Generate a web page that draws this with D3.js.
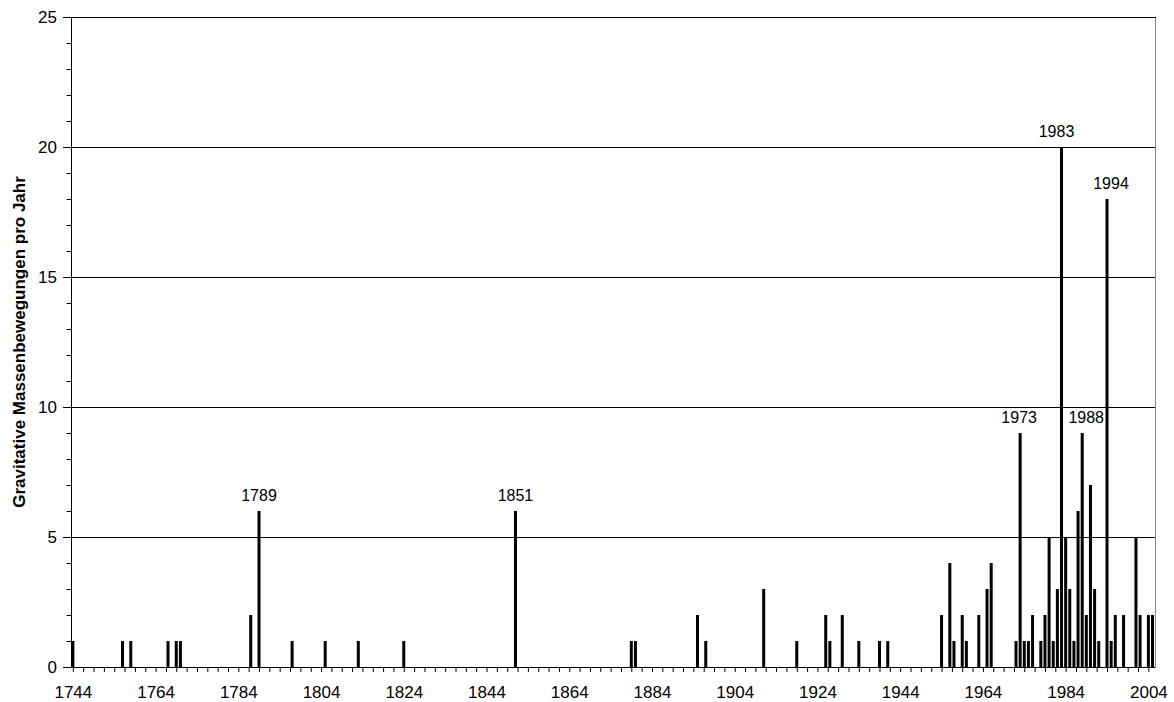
<!DOCTYPE html>
<html>
<head>
<meta charset="utf-8">
<script src="https://cdn.jsdelivr.net/npm/d3@7"></script>
<style>
  html, body { margin: 0; padding: 0; background: #fff; }
  svg { display: block; font-family: "Liberation Sans", Arial, sans-serif; }
</style>
</head>
<body>
<svg id="chart" width="1174" height="702"></svg>
<script>
// ---- data ----
const years = [1744,1756,1758,1767,1769,1770,1787,1789,1797,1805,1813,1824,1851,1879,1880,1895,1897,1911,1919,1926,1927,1930,1934,1939,1941,1954,1956,1957,1959,1960,1963,1965,1966,1972,1973,1974,1975,1976,1978,1979,1980,1981,1982,1983,1984,1985,1986,1987,1988,1989,1990,1991,1992,1994,1995,1996,1998,2001,2002,2004,2005];
const counts = [1,1,1,1,1,1,2,6,1,1,1,1,6,1,1,2,1,3,1,2,1,2,1,1,1,2,4,1,2,1,2,3,4,1,9,1,1,2,1,2,5,1,3,20,5,3,1,6,9,2,7,3,1,18,1,2,2,5,2,2,2];
const labelledYears = [1789, 1851, 1973, 1983, 1988, 1994];
const xTickLabels = ["1744","1764","1784","1804","1824","1844","1864","1884","1904","1924","1944","1964","1984","2004"];
const yMajorTicks = [0, 5, 10, 15, 20, 25];
const yTitle = "Gravitative Massenbewegungen pro Jahr";

(function () {
const data = years.map((yr, i) => ({ year: yr, value: counts[i] }));

// ---- layout ----
const svg = d3.select("#chart");
const pL = 71, pR = 1155, pT = 17, pB = 667;
const x = d3.scaleLinear().domain([1743.55, 2005.6]).range([pL, pR]);
const y = d3.scaleLinear().domain([0, 25]).range([pB, pT]);
const font = "17px";

// gridlines
svg.append("g")
  .selectAll("line")
  .data(yMajorTicks.filter(v => v > 0))
  .join("line")
  .attr("x1", pL).attr("x2", pR)
  .attr("y1", d => Math.round(y(d)) + 0.5).attr("y2", d => Math.round(y(d)) + 0.5)
  .attr("stroke", "#000").attr("stroke-width", 1);

// right border
svg.append("line")
  .attr("x1", pR + 0.5).attr("x2", pR + 0.5)
  .attr("y1", y(25)).attr("y2", y(0))
  .attr("stroke", "#888").attr("stroke-width", 1);

// bars
const barW = 3;
svg.append("g")
  .selectAll("rect")
  .data(data)
  .join("rect")
  .attr("x", d => x(d.year) - barW / 2)
  .attr("width", barW)
  .attr("y", d => y(d.value))
  .attr("height", d => y(0) - y(d.value))
  .attr("fill", "#000");

// bar labels
const labelNudge = { 1983: -5, 1988: 4, 1994: 4, 1973: -1 };
svg.append("g")
  .selectAll("text")
  .data(data.filter(d => labelledYears.includes(d.year)))
  .join("text")
  .attr("x", d => x(d.year) + (labelNudge[d.year] || 0))
  .attr("y", d => y(d.value) - 10.5)
  .attr("text-anchor", "middle")
  .attr("font-size", "16px")
  .attr("fill", "#000")
  .text(d => d.year);

// x axis
const xTicks = d3.range(0, 105).map(i => 1744 + 2.5 * i);
const xAxis = d3.axisBottom(x)
  .tickValues(xTicks)
  .tickSize(5)
  .tickSizeOuter(0)
  .tickPadding(14)
  .tickFormat(d => {
    const idx = Math.round((d - 1744) / 20);
    return (Math.abs((d - 1744) - idx * 20) < 1e-6) ? xTickLabels[idx] : "";
  });
const gx = svg.append("g").attr("transform", `translate(0,${pB})`).call(xAxis);
gx.select(".domain").attr("stroke", "#000");
gx.selectAll(".tick line").attr("stroke", "#000");
gx.selectAll("text").attr("font-size", font).attr("font-family", "Liberation Sans, Arial, sans-serif").attr("fill", "#000");

// y axis minor
const gyMinor = svg.append("g").attr("transform", `translate(${pL},0)`)
  .call(d3.axisLeft(y).tickValues(d3.range(0, 26)).tickSize(4.5).tickFormat(""));
gyMinor.select(".domain").remove();
gyMinor.selectAll(".tick line").attr("stroke", "#000");

// y axis major
const gy = svg.append("g").attr("transform", `translate(${pL},0)`)
  .call(d3.axisLeft(y).tickValues(yMajorTicks).tickSize(8).tickPadding(6).tickSizeOuter(0));
gy.select(".domain").attr("stroke", "#000");
gy.selectAll(".tick line").attr("stroke", "#000");
gy.selectAll("text").attr("font-size", font).attr("font-family", "Liberation Sans, Arial, sans-serif").attr("fill", "#000");

// top border (25 line)
svg.append("line")
  .attr("x1", pL).attr("x2", pR + 1)
  .attr("y1", Math.round(y(25)) + 0.5).attr("y2", Math.round(y(25)) + 0.5)
  .attr("stroke", "#000");

// y title
svg.append("text")
  .attr("transform", `translate(24.5,${(pT + pB) / 2}) rotate(-90)`)
  .attr("text-anchor", "middle")
  .attr("font-size", "17px")
  .attr("font-weight", "bold")
  .attr("fill", "#000")
  .text(yTitle);
})();
</script>
</body>
</html>
